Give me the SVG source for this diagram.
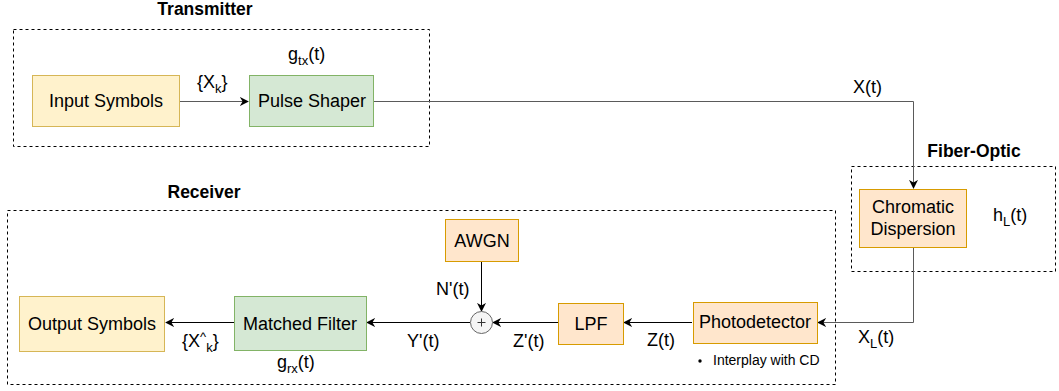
<svg xmlns="http://www.w3.org/2000/svg" width="1059" height="391" viewBox="0 0 1059 391">
  <defs>
    <style>
      text { font-family: "Liberation Sans", Arial, sans-serif; font-size: 18px; fill: #000; }
      .title { font-weight: bold; font-size: 17.5px; }
      .note { font-size: 14px; }
      .c { text-anchor: middle; }
      .sub { font-size: 13px; }
      .group { fill: none; stroke: #000; stroke-width: 1; stroke-dasharray: 3 3; }
      .yellow { fill: #fff2cc; stroke: #d6b656; }
      .green { fill: #d5e8d4; stroke: #82b366; }
      .orange { fill: #ffe6cc; stroke: #d79b00; }
      .wire { fill: none; stroke: #000; stroke-width: 1; }
      .grey { stroke: #5a5a5a; }
    </style>
    <marker id="arrow" viewBox="0 0 10 10" refX="9" refY="5" markerWidth="9" markerHeight="9" markerUnits="userSpaceOnUse" orient="auto">
      <path d="M0,0 L10,5 L0,10 L3,5 Z" fill="#000"/>
    </marker>
  </defs>
  <rect width="1059" height="391" fill="#fff"/>

  <!-- group frames -->
  <g id="frames">
    <rect class="group" x="13.5" y="29.5" width="416" height="117"/>
    <text class="title c" x="205" y="15">Transmitter</text>
    <rect class="group" x="851.5" y="166.5" width="204" height="105"/>
    <text class="title c" x="974" y="157">Fiber-Optic</text>
    <rect class="group" x="7.5" y="210.5" width="828" height="174"/>
    <text class="title c" x="204" y="198">Receiver</text>
  </g>

  <!-- connectors -->
  <g id="connectors">
    <path class="wire grey" d="M180,101.5 H248" marker-end="url(#arrow)"/>
    <path class="wire grey" d="M374,101.5 H913.5 V188" marker-end="url(#arrow)"/>
    <path class="wire grey" d="M913.5,248 V322.5 H818" marker-end="url(#arrow)"/>
    <path class="wire" d="M692,322.5 H624" marker-end="url(#arrow)"/>
    <path class="wire" d="M558,322.5 H493" marker-end="url(#arrow)"/>
    <path class="wire" d="M481.5,262 V311" marker-end="url(#arrow)"/>
    <path class="wire" d="M470,322.5 H367" marker-end="url(#arrow)"/>
    <path class="wire" d="M234,322.5 H166" marker-end="url(#arrow)"/>
  </g>

  <!-- connector labels -->
  <g id="labels">
    <text x="197" y="88">{X<tspan class="sub" dy="5">k</tspan><tspan dy="-5">}</tspan></text>
    <text x="288" y="60">g<tspan class="sub" dy="5">tx</tspan><tspan dy="-5">(t)</tspan></text>
    <text x="853" y="93">X(t)</text>
    <text x="993" y="221">h<tspan class="sub" dy="5">L</tspan><tspan dy="-5">(t)</tspan></text>
    <text x="858" y="343">X<tspan class="sub" dy="5">L</tspan><tspan dy="-5">(t)</tspan></text>
    <text x="436" y="295">N'(t)</text>
    <text x="647" y="346">Z(t)</text>
    <text x="513" y="347">Z'(t)</text>
    <text x="407" y="347">Y'(t)</text>
    <text x="182" y="347">{X<tspan class="sub" dy="-6">^</tspan><tspan class="sub" dy="11">k</tspan><tspan dy="-5">}</tspan></text>
    <text x="277" y="368">g<tspan class="sub" dy="5">rx</tspan><tspan dy="-5">(t)</tspan></text>
  </g>

  <!-- nodes -->
  <g id="input-symbols">
    <rect class="yellow" x="32.5" y="75.5" width="147" height="51"/>
    <text class="c" x="106" y="107">Input Symbols</text>
  </g>
  <g id="pulse-shaper">
    <rect class="green" x="249.5" y="75.5" width="124" height="51"/>
    <text class="c" x="312" y="107">Pulse Shaper</text>
  </g>
  <g id="chromatic-dispersion">
    <rect class="orange" x="859.5" y="189.5" width="107" height="58"/>
    <text class="c" x="913" y="213">Chromatic</text>
    <text class="c" x="913" y="235">Dispersion</text>
  </g>
  <g id="photodetector">
    <rect class="orange" x="693.5" y="302.5" width="124" height="41"/>
    <text class="c" x="755" y="328">Photodetector</text>
    <circle cx="700" cy="361" r="1.7" fill="#000"/>
    <text class="note" x="713" y="365">Interplay with CD</text>
  </g>
  <g id="lpf">
    <rect class="orange" x="558.5" y="303.5" width="65" height="41"/>
    <text class="c" x="591" y="330">LPF</text>
  </g>
  <g id="awgn">
    <rect class="orange" x="445.5" y="219.5" width="73" height="42"/>
    <text class="c" x="482" y="247">AWGN</text>
  </g>
  <g id="adder">
    <circle cx="481.5" cy="322.5" r="11" fill="#f5f5f5" stroke="#666"/>
    <path d="M477.5,322.5 H485.5 M481.5,318.5 V326.5" stroke="#333" stroke-width="1"/>
  </g>
  <g id="matched-filter">
    <rect class="green" x="234.5" y="296.5" width="132" height="54"/>
    <text class="c" x="300" y="330">Matched Filter</text>
  </g>
  <g id="output-symbols">
    <rect class="yellow" x="19.5" y="296.5" width="145" height="55"/>
    <text class="c" x="92" y="330">Output Symbols</text>
  </g>
</svg>
